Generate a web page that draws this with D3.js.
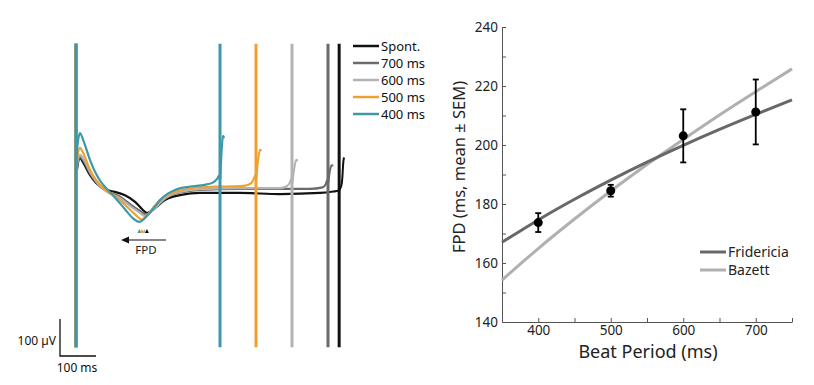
<!DOCTYPE html>
<html>
<head>
<meta charset="utf-8">
<script src="https://cdn.jsdelivr.net/npm/d3@7"></script>
<style>
  body { margin: 0; background: #fff; }
  svg { display: block; font-family: "Noto Sans", sans-serif; }
</style>
</head>
<body>
<svg id="fig" width="814" height="385"></svg>
<script>
// ---- left panel: field potential traces (t in ms, v in µV) ----
const traceNames = ['Spont.', '700 ms', '600 ms', '500 ms', '400 ms'];
const traceColors = ['#111111', '#6b6b6b', '#b3b3b3', '#f0a030', '#3d98a8'];
const tracePeriods = [731, 700, 600, 500, 400];

const waveSpont = [[0,20],[4,65],[11,86],[20,74],[39,40],[55,20],[67,11],[86,0],[108,-5],[136,-14],[164,-32],[186,-54],[197,-62],[208,-57],[219,-49],[247,-27],[270,-18],[289,-14],[344,-8],[456,-8],[567,-11],[678,-8],[715,-4],[728,-2],[731,0]];
const wave700 = [[0,25],[4,70],[11,89],[20,80],[39,45],[55,22],[67,9],[86,-3],[122,-18],[150,-38],[180,-58],[195,-66],[210,-57],[225,-44],[250,-22],[275,-10],[300,-5],[344,0],[456,3],[567,3],[650,3],[685,7],[694,16],[698,27],[700,20]];
const wave600 = [[0,25],[4,75],[11,95],[20,85],[39,49],[55,25],[67,11],[86,-5],[122,-22],[150,-43],[178,-62],[190,-70],[205,-62],[219,-49],[247,-22],[270,-10],[289,-5],[344,2],[456,5],[567,5],[585,10],[594,20],[598,30],[600,20]];
const wave500 = [[0,30],[4,90],[11,114],[20,100],[39,54],[55,28],[67,14],[86,-3],[108,-16],[136,-40],[164,-66],[183,-80],[200,-66],[215,-47],[233,-27],[255,-12],[275,-5],[330,6],[386,9],[442,10],[470,12],[486,18],[494,30],[498,40],[500,30]];
const wave400 = [[0,40],[4,120],[11,154],[20,135],[39,81],[55,45],[67,25],[86,3],[108,-20],[136,-52],[158,-76],[176,-86],[195,-72],[215,-50],[233,-28],[255,-10],[275,0],[317,9],[358,14],[380,20],[392,30],[397,38],[400,30]];

const tailSpont = [[732,0],[739,12],[741,55],[743,84],[745,88]];
const tail700 = [[701,20],[705,55],[710,70],[713,64]];
const tail600 = [[601,20],[606,60],[612,86],[615,78]];
const tail500 = [[501,30],[505,80],[511,114],[514,105]];
const tail400 = [[401,30],[404,100],[408,154],[411,140]];

const waves = [waveSpont, wave700, wave600, wave500, wave400];
const tails = [tailSpont, tail700, tail600, tail500, tail400];
const spikeRange = [395, -425];

// ---- right panel: FPD vs beat period ----
const beatPeriods = [400, 500, 600, 700];
const fpdMean = [173.7, 184.5, 203.1, 211.2];
const fpdSem = [3.2, 2.0, 9.0, 11.0];
const fitPeriods = [350, 400, 450, 500, 550, 600, 650, 700, 750];
const fridericia = [167.0, 174.6, 181.6, 188.1, 194.2, 199.9, 205.3, 210.4, 215.3];
const bazett = [154.2, 164.9, 174.9, 184.4, 193.4, 201.9, 210.2, 218.1, 225.8];
const yTicks = [140, 160, 180, 200, 220, 240];
const yMinor = [150, 170, 190, 210, 230];
const xTicks = [400, 500, 600, 700];
const xMinor = [450, 550, 650, 750];

const svg = d3.select('#fig');

// ================= left panel =================
const xL = d3.scaleLinear().domain([0, 100]).range([76, 112]);
const yL = d3.scaleLinear().domain([0, 100]).range([190, 153]);

const gL = svg.append('g');
const smooth = d3.line().x(d => xL(d[0])).y(d => yL(d[1])).curve(d3.curveMonotoneX);
const plain = d3.line().x(d => xL(d[0])).y(d => yL(d[1])).curve(d3.curveBasis);

traceNames.forEach((name, i) => {
  const c = traceColors[i];
  const g = gL.append('g');
  // spikes at t = 0 and at end of period
  [0, tracePeriods[i]].forEach(t => {
    g.append('line')
      .attr('x1', xL(t)).attr('x2', xL(t))
      .attr('y1', yL(spikeRange[0])).attr('y2', yL(spikeRange[1]))
      .attr('stroke', c).attr('stroke-width', 3);
  });
  g.append('path').attr('d', smooth(waves[i]))
    .attr('fill', 'none').attr('stroke', c).attr('stroke-width', 2.2);
  g.append('path').attr('d', plain(tails[i]))
    .attr('fill', 'none').attr('stroke', c).attr('stroke-width', 2);
});

// minimum markers
const minima = waves.map(w => d3.least(w, d => d[1]));
[4, 3, 2, 0].forEach(i => {
  const m = minima[i];
  const x = xL(m[0]);
  gL.append('path')
    .attr('d', `M${x - 2},233 L${x + 2},233 L${x},229 Z`)
    .attr('fill', traceColors[i]);
});

// FPD arrow
gL.append('line').attr('x1', 166).attr('x2', 126).attr('y1', 240).attr('y2', 240)
  .attr('stroke', '#111').attr('stroke-width', 1.2);
gL.append('path').attr('d', 'M121,240 L129,236.5 L129,243.5 Z').attr('fill', '#111');
gL.append('text').attr('x', 146).attr('y', 254).attr('text-anchor', 'middle')
  .attr('font-size', 11.5).attr('fill', '#222').text('FPD');

// scale bar
const sbX = 60, sbY = 356;
gL.append('path')
  .attr('d', `M${sbX},${yL(100) - 190 + sbY} L${sbX},${sbY} L${sbX + xL(100) - xL(0)},${sbY}`)
  .attr('fill', 'none').attr('stroke', '#111').attr('stroke-width', 1.3);
gL.append('text').attr('x', 56).attr('y', 345).attr('text-anchor', 'end')
  .attr('font-size', 12).attr('fill', '#111').text('100 µV');
gL.append('text').attr('x', 77).attr('y', 372).attr('text-anchor', 'middle')
  .attr('font-size', 12).attr('fill', '#111').text('100 ms');

// legend
const legL = gL.append('g').attr('transform', 'translate(353,46)');
traceNames.forEach((name, i) => {
  const row = legL.append('g').attr('transform', `translate(0,${i * 17})`);
  row.append('line').attr('x1', 0).attr('x2', 26).attr('y1', 0).attr('y2', 0)
    .attr('stroke', traceColors[i]).attr('stroke-width', 2.5);
  row.append('text').attr('x', 28).attr('y', 0).attr('dy', '0.35em')
    .attr('font-size', 13).attr('fill', '#111').text(name);
});

// ================= right panel =================
const x = d3.scaleLinear().domain([350, 750]).range([502, 792]);
const y = d3.scaleLinear().domain([140, 240]).range([322, 27]);
const gR = svg.append('g');

gR.append('g').attr('transform', 'translate(502,0)')
  .call(d3.axisLeft(y).tickValues(yTicks).tickSizeInner(-4).tickSizeOuter(0).tickPadding(4));
gR.append('g').attr('transform', 'translate(502,0)')
  .call(d3.axisLeft(y).tickValues(yMinor).tickSizeInner(-4).tickSizeOuter(0).tickFormat(''))
  .select('.domain').remove();
gR.append('g').attr('transform', 'translate(0,322)')
  .call(d3.axisBottom(x).tickValues(xTicks).tickSizeInner(-4).tickSizeOuter(0).tickPadding(3));
gR.append('g').attr('transform', 'translate(0,322)')
  .call(d3.axisBottom(x).tickValues(xMinor).tickSizeInner(-4).tickSizeOuter(0).tickFormat(''))
  .select('.domain').remove();

gR.selectAll('.tick text').attr('font-size', 13.5).attr('fill', '#222')
  .attr('font-family', '"Noto Sans", sans-serif');
gR.selectAll('.domain, .tick line').attr('stroke', '#555');

// fit lines
const fitLine = d3.line().x((d, i) => x(fitPeriods[i])).y(d => y(d)).curve(d3.curveMonotoneX);
gR.append('path').attr('d', fitLine(bazett)).attr('fill', 'none')
  .attr('stroke', '#b0b0b0').attr('stroke-width', 3);
gR.append('path').attr('d', fitLine(fridericia)).attr('fill', 'none')
  .attr('stroke', '#686868').attr('stroke-width', 3);

// error bars + points
beatPeriods.forEach((p, i) => {
  const lo = y(fpdMean[i] - fpdSem[i]), hi = y(fpdMean[i] + fpdSem[i]);
  const cx = x(p);
  gR.append('line').attr('x1', cx).attr('x2', cx).attr('y1', lo).attr('y2', hi)
    .attr('stroke', '#000').attr('stroke-width', 1.8);
  [lo, hi].forEach(v => gR.append('line').attr('x1', cx - 3).attr('x2', cx + 3)
    .attr('y1', v).attr('y2', v).attr('stroke', '#000').attr('stroke-width', 1.8));
  gR.append('circle').attr('cx', cx).attr('cy', y(fpdMean[i])).attr('r', 4.5).attr('fill', '#000');
});

// legend
const legR = gR.append('g').attr('transform', 'translate(700,252)');
[['Fridericia', '#686868'], ['Bazett', '#b0b0b0']].forEach((d, i) => {
  const row = legR.append('g').attr('transform', `translate(0,${i * 18})`);
  row.append('line').attr('x1', 0).attr('x2', 26).attr('stroke', d[1]).attr('stroke-width', 3);
  row.append('text').attr('x', 28).attr('dy', '0.35em').attr('font-size', 14)
    .attr('fill', '#222').text(d[0]);
});

// axis titles
gR.append('text').attr('x', 648).attr('y', 358).attr('text-anchor', 'middle')
  .attr('font-size', 18).attr('fill', '#222').text('Beat Period (ms)');
gR.append('text').attr('transform', 'translate(465,167) rotate(-90)')
  .attr('text-anchor', 'middle').attr('font-size', 16.5).attr('fill', '#222')
  .text('FPD (ms, mean ± SEM)');
</script>
</body>
</html>
